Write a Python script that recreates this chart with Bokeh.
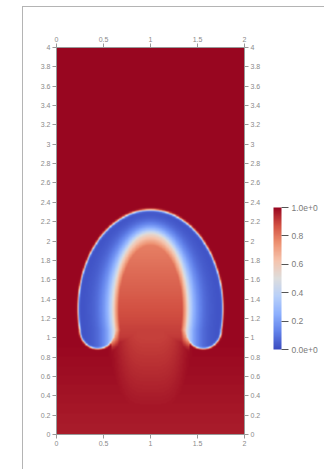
import numpy as np
from bokeh.plotting import figure
from bokeh.models import (LinearColorMapper, ColorBar, FixedTicker, LinearAxis, Range1d)
from bokeh.embed import file_html
from bokeh.resources import INLINE

# ---------------- data ----------------
x_ticks = [0, 0.5, 1, 1.5, 2]
x_tick_labels = ["0", "0.5", "1", "1.5", "2"]
y_ticks = [0, 0.2, 0.4, 0.6, 0.8, 1.0, 1.2, 1.4, 1.6, 1.8, 2.0,
           2.2, 2.4, 2.6, 2.8, 3.0, 3.2, 3.4, 3.6, 3.8, 4.0]
y_tick_labels = ["0", "0.2", "0.4", "0.6", "0.8", "1", "1.2", "1.4", "1.6", "1.8", "2",
                 "2.2", "2.4", "2.6", "2.8", "3", "3.2", "3.4", "3.6", "3.8", "4"]
cbar_ticks = [0, 0.2, 0.4, 0.6, 0.8, 1.0]
cbar_labels = ["0.0e+0", "0.2", "0.4", "0.6", "0.8", "1.0e+0"]

# bubble geometry (data units)
cap_center_x = 1.0
cap_center_y = 1.30
cap_outer_halfwidth = 0.77
cap_outer_halfheight = 1.02
core_halfwidth = 0.40
core_halfheight = 0.78
core_flare = 1.2
lobe_y = 1.08
lobe_extra_radius = 0.008
core_fade_y = 0.95

# field levels
shell_edge_value = 0.02
shell_inner_value = 0.50
core_top_value = 0.77
core_bottom_value = 0.90
core_top_y = 2.08
stem_value = 0.90
stem_halfwidth = 0.36
lower_value = 0.96
background_value = 1.0

# colour map (cool to warm)
cmap_stops = [0, 0.125, 0.25, 0.375, 0.5, 0.625, 0.75, 0.875, 1.0]
cmap_colors = [(59, 76, 192), (98, 130, 234), (141, 176, 254), (184, 208, 249),
               (221, 221, 221), (245, 196, 173), (238, 146, 114), (210, 80, 66),
               (152, 6, 32)]

# ---------------- field ----------------
nx, ny = 320, 640
xs = (np.arange(nx) + 0.5) / nx * 2.0
ys = (np.arange(ny) + 0.5) / ny * 4.0
X, Y = np.meshgrid(xs, ys)
w = 0.010
cx, cy = cap_center_x, cap_center_y


def inside(signed, width=w):
    return 0.5 * (1 + np.tanh(signed / width))


def shell_depth(Xg, Yg):
    a_i = core_halfwidth * np.where(Yg < lobe_y, 1 + core_flare * (lobe_y - Yg), 1.0)
    ro = np.sqrt(((Xg - cx) / cap_outer_halfwidth) ** 2 + ((Yg - cy) / cap_outer_halfheight) ** 2)
    ri = np.sqrt(((Xg - cx) / a_i) ** 2 + ((Yg - cy) / core_halfheight) ** 2)
    a = np.clip(1 - ro, 0, None)
    b = np.clip(ri - 1, 0, None)
    return ro, ri, np.where(ri < 1, 1.0, a / (a + b + 1e-9))


def shell_value(uu):
    return shell_edge_value + (shell_inner_value - shell_edge_value) * uu ** 2.1


r_o, r_i, u = shell_depth(X, Y)
v_shell = shell_value(u)
t_core = np.clip((core_top_y - Y) / (core_top_y - lobe_y), 0, 1)
v_core_target = core_top_value + (core_bottom_value - core_top_value) * t_core
t_in = np.clip((1 - r_i) / 0.16, 0, 1) ** 0.8
v_core = shell_inner_value + (v_core_target - shell_inner_value) * t_in
v_in = np.where(r_i < 1, v_core, v_shell)
cut_shell = inside(Y - (lobe_y - 0.02), 0.006)
cut_core = inside(Y - core_fade_y, 0.06)
s_cap = inside((1 - r_o) * 0.8) * np.where(r_i < 1, cut_core, cut_shell)
v_cap = s_cap * v_in + (1 - s_cap) * background_value

# lobes (continue the shell profile of the row y = lobe_y)
x_out_l = cx - cap_outer_halfwidth * np.sqrt(1 - ((lobe_y - cy) / cap_outer_halfheight) ** 2)
x_in_l = cx - core_halfwidth * np.sqrt(1 - ((lobe_y - cy) / core_halfheight) ** 2)
lobe_r = (x_in_l - x_out_l) / 2 + lobe_extra_radius
lobe_dx = cx - (x_in_l + x_out_l) / 2 - lobe_extra_radius
_, _, u_row = shell_depth(X, np.full_like(Y, lobe_y))
v_row = shell_value(u_row)
v_lobes = np.full_like(X, background_value)
for sgn in (-1, 1):
    lx = cx + sgn * lobe_dx
    d = np.sqrt((X - lx) ** 2 + (Y - lobe_y) ** 2) / lobe_r
    s_l = inside((1 - d) * lobe_r) * inside((lobe_y + 0.02) - Y, 0.006)
    v_lobes = np.minimum(v_lobes, s_l * v_row + (1 - s_l) * background_value)

# stem and lower region
f_stem = np.clip(Y / 1.0, 0.3, 1.0) * inside(1.5 - Y, 0.1)
v_stem = background_value - (background_value - stem_value) * np.exp(-((X - cx) / stem_halfwidth) ** 4) * f_stem
v_low = background_value - (background_value - lower_value) * np.clip((1.0 - Y) / 1.0, 0, 1)
field = np.minimum.reduce([v_cap, v_lobes, v_stem, v_low])

# ---------------- palette ----------------
grid = np.linspace(0, 1, 256)
stops = np.array(cmap_stops)
cols = np.array(cmap_colors, dtype=float)
palette = []
for g in grid:
    r = np.interp(g, stops, cols[:, 0])
    gg = np.interp(g, stops, cols[:, 1])
    b = np.interp(g, stops, cols[:, 2])
    palette.append("#%02x%02x%02x" % (int(round(r)), int(round(gg)), int(round(b))))
mapper = LinearColorMapper(palette=palette, low=0, high=1)

# ---------------- figure ----------------
p = figure(width=302, height=463, output_backend="svg", toolbar_location=None,
           x_range=Range1d(0, 2), y_range=Range1d(0, 4),
           x_axis_location=None, y_axis_location=None,
           min_border_left=33, min_border_right=81, min_border_top=40, min_border_bottom=36,
           styles={"margin-left": "22px", "margin-top": "6px",
                   "border-left": "1px solid #b4b4b4", "border-top": "1px solid #b4b4b4"})
p.xgrid.visible = False
p.ygrid.visible = False
p.outline_line_color = None
p.background_fill_color = "white"
p.border_fill_color = "white"

p.image(image=[field], x=0, y=0, dw=2, dh=4, color_mapper=mapper)

label_color = "#8a8a8a"


def style_axis(ax, ticks, labels):
    ax.ticker = FixedTicker(ticks=ticks)
    ax.major_label_overrides = {t: l for t, l in zip(ticks, labels)}
    ax.major_label_text_font = "Liberation Sans"
    ax.major_label_text_font_size = "7px"
    ax.major_label_text_color = label_color
    ax.major_tick_out = 4
    ax.major_tick_in = 0
    ax.minor_tick_out = 0
    ax.minor_tick_in = 0
    ax.major_tick_line_color = "#999999"
    ax.axis_line_color = "#999999"
    ax.major_label_standoff = 2


for loc in ("left", "right"):
    ax = LinearAxis()
    style_axis(ax, y_ticks, y_tick_labels)
    p.add_layout(ax, loc)
for loc in ("above", "below"):
    ax = LinearAxis()
    style_axis(ax, x_ticks, x_tick_labels)
    p.add_layout(ax, loc)

cb = ColorBar(color_mapper=mapper, ticker=FixedTicker(ticks=cbar_ticks),
              major_label_overrides={t: l for t, l in zip(cbar_ticks, cbar_labels)},
              width=8, height=142, padding=0, margin=0,
              location=(217, 85),
              major_tick_out=7, major_tick_in=0, major_tick_line_color="#555555",
              minor_tick_line_color=None,
              bar_line_color=None, border_line_color=None,
              background_fill_alpha=0, label_standoff=3,
              major_label_text_font="Liberation Sans",
              major_label_text_font_size="8.5px",
              major_label_text_color="#7a7a7a")
p.add_layout(cb, "center")

open("out.html", "w").write(file_html(p, INLINE))
